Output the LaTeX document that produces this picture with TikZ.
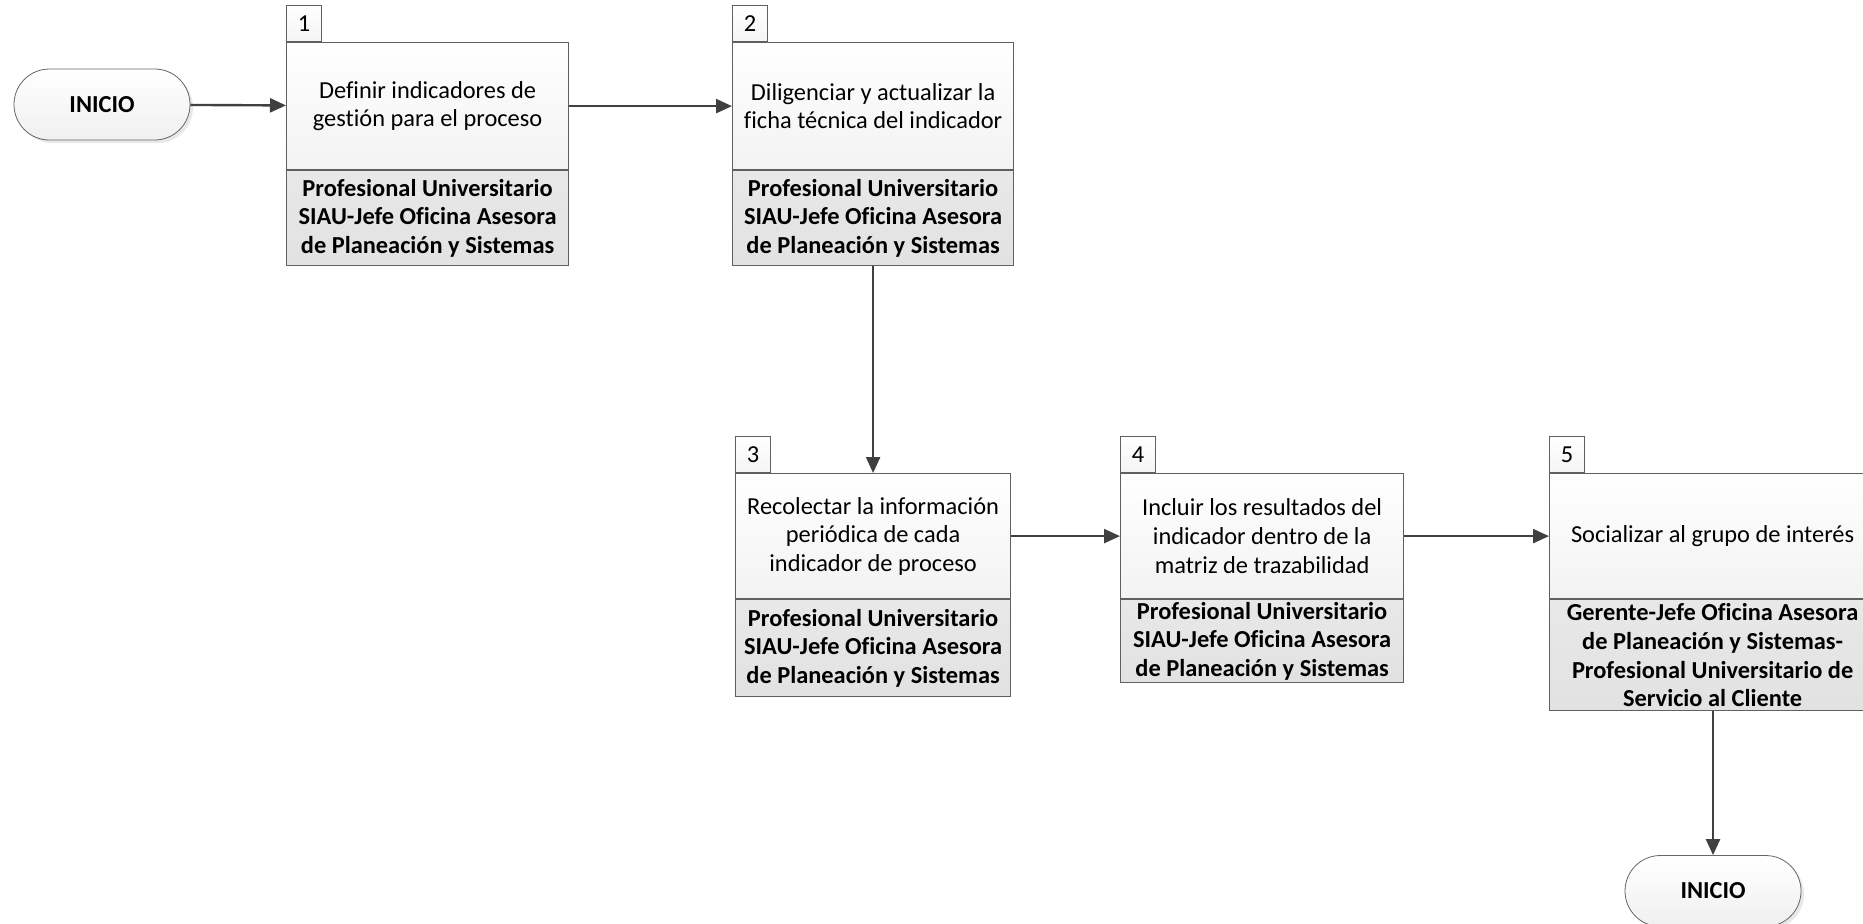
\documentclass[tikz,border=0pt]{standalone}
\usepackage{fontspec}
\setmainfont[Ligatures=NoCommon]{Carlito}
\usepackage{tikz}
\usetikzlibrary{arrows.meta,positioning,shadows}

\begin{document}
\begin{tikzpicture}[
    x=0.5pt, y=-0.5pt,
    txt/.style={font=\fontsize{12.2pt}{14.3pt}\selectfont},
    term/.style={draw=gray!80!black, rounded corners=17.7pt, minimum width=88pt, minimum height=35.5pt, align=center, font=\fontsize{12.2pt}{14.3pt}\selectfont\bfseries, top color=white, bottom color=gray!12, drop shadow={opacity=0.18, shadow xshift=1.5pt, shadow yshift=-1.5pt}},
    act/.style={draw=gray!75!black, line width=0.6pt, inner sep=2pt, align=center, txt, top color=white, bottom color=gray!10, anchor=north west},
    resp/.style={draw=gray!75!black, line width=0.6pt, inner sep=1pt, align=center, font=\fontsize{12.2pt}{14.3pt}\selectfont\bfseries, top color=gray!18, bottom color=gray!23},
    num/.style={draw=gray!75!black, line width=0.6pt, minimum width=17.5pt, minimum height=18pt, inner sep=0pt, txt, top color=white, bottom color=gray!8, anchor=south west},
    arr/.style={-{Triangle[length=8pt,width=7pt]}, line width=1.2pt, color=black!75}
]
\useasboundingbox (0,0) rectangle (1863,923);
\clip (0,0) rectangle (1863,923);

\node[term] (ini) at (102,104.5) {INICIO};

% paso 1
\node[act, minimum width=141pt, minimum height=63.5pt] (a1) at (286,42) {Definir indicadores de\\gestión para el proceso};
\node[resp, minimum width=141pt, minimum height=47.5pt, below=0pt of a1] (r1) {Profesional Universitario\\SIAU-Jefe Oficina Asesora\\de Planeación y Sistemas};
\node[num] (n1) at (a1.north west) {1};

% paso 2
\node[act, minimum width=140.5pt, minimum height=63.5pt] (a2) at (732,42) {Diligenciar y actualizar la\\ficha técnica del indicador};
\node[resp, minimum width=140.5pt, minimum height=47.5pt, below=0pt of a2] (r2) {Profesional Universitario\\SIAU-Jefe Oficina Asesora\\de Planeación y Sistemas};
\node[num] (n2) at (a2.north west) {2};

% paso 3
\node[act, minimum width=137.5pt, minimum height=62.5pt] (a3) at (735,473) {Recolectar la información\\periódica de cada\\indicador de proceso};
\node[resp, minimum width=137.5pt, minimum height=48.5pt, below=0pt of a3] (r3) {Profesional Universitario\\SIAU-Jefe Oficina Asesora\\de Planeación y Sistemas};
\node[num] (n3) at (a3.north west) {3};

% paso 4
\node[act, minimum width=141.5pt, minimum height=62.5pt] (a4) at (1120,473) {Incluir los resultados del\\indicador dentro de la\\matriz de trazabilidad};
\node[resp, minimum width=141.5pt, minimum height=41.5pt, below=0pt of a4] (r4) {Profesional Universitario\\SIAU-Jefe Oficina Asesora\\de Planeación y Sistemas};
\node[num] (n4) at (a4.north west) {4};

% paso 5
\node[act, minimum width=163pt, minimum height=62.5pt] (a5) at (1549,473) {Socializar al grupo de interés};
\node[resp, minimum width=163pt, minimum height=55.5pt, below=0pt of a5] (r5) {Gerente-Jefe Oficina Asesora\\de Planeación y Sistemas-\\Profesional Universitario de\\Servicio al Cliente};
\node[num] (n5) at (a5.north west) {5};

\node[term] (fin) at (1713,891) {INICIO};

\draw[arr] (ini) -- (a1);
\draw[arr] (a1) -- (a2);
\draw[arr] (r2) -- (a3);
\draw[arr] (a3) -- (a4);
\draw[arr] (a4) -- (a5);
\draw[arr] (r5.south -| fin) -- (fin);
\end{tikzpicture}
\end{document}
